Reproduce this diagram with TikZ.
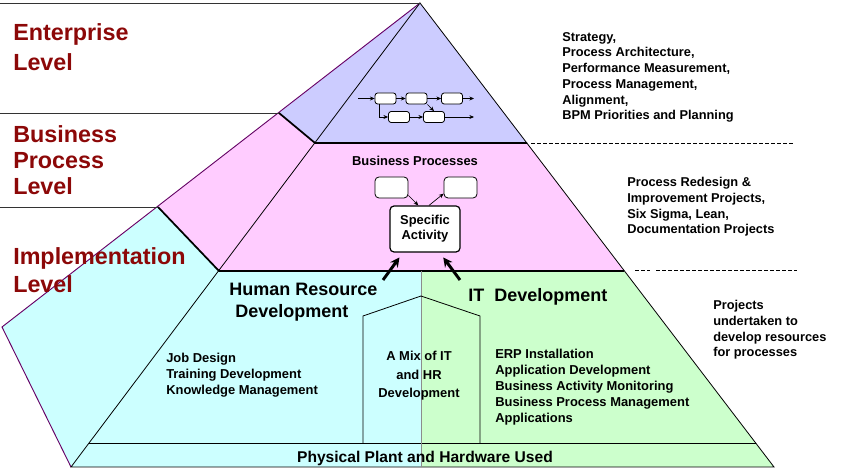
\documentclass[tikz,border=0pt]{standalone}
\usepackage{fontspec}
\setmainfont{Liberation Sans}
\usetikzlibrary{calc,arrows.meta,positioning}
\definecolor{entfill}{RGB}{204,204,255}
\definecolor{bpfill}{RGB}{255,204,255}
\definecolor{hrfill}{RGB}{204,255,255}
\definecolor{itfill}{RGB}{204,255,204}
\definecolor{lvlred}{RGB}{140,8,8}
\definecolor{rim}{RGB}{102,0,102}

\begin{document}
\begin{tikzpicture}[x=0.75pt,y=-0.75pt,>={Stealth[length=3.5pt,width=3pt]},
  lvl/.style={anchor=north west,inner sep=0pt,align=left,text=lvlred,
    font=\fontsize{17.5}{21.5}\selectfont\bfseries},
  note/.style={anchor=north west,inner sep=0pt,align=left,
    font=\fontsize{9.6}{11.8}\selectfont\bfseries},
  inner/.style={inner sep=0pt,font=\fontsize{9.7}{12}\selectfont\bfseries},
  head/.style={inner sep=0pt,font=\fontsize{13.5}{16.5}\selectfont\bfseries},
  fbox/.style={draw,fill=white,rounded corners=2pt,line width=0.6pt,
    minimum width=15.75pt,minimum height=8.25pt,inner sep=0pt},
  pbox/.style={draw,fill=white,rounded corners=3pt,line width=0.6pt,
    minimum width=24.75pt,minimum height=15.75pt,inner sep=0pt},
  push/.style={line width=2.2pt,-{Stealth[length=7pt,width=7pt]},shorten >=4.5pt},
  rule/.style={line width=0.6pt,black!80},
  dashrule/.style={line width=0.7pt,dash pattern=on 3pt off 1.5pt}]
\useasboundingbox (0,0) rectangle (850,473);
% ---- corner points of the pyramid ----
\coordinate (apex) at (420,3);
\coordinate (eL) at (279,113);   \coordinate (eF) at (315,143);  \coordinate (eR) at (527,143);
\coordinate (bL) at (158,207);   \coordinate (bF) at (219,271);  \coordinate (bR) at (624,271);
\coordinate (sideL) at (2,327);  \coordinate (botL) at (71,467); \coordinate (botR) at (774,467);
\coordinate (midT) at (421,271); \coordinate (midB) at (421,467);
\coordinate (pL) at (89,443);    \coordinate (pR) at (756,443);
% ---- faces ----
\fill[entfill] (apex) -- (eL) -- (eF) -- (eR) -- cycle;
\fill[bpfill] (eL) -- (bL) -- (bF) -- (bR) -- (eR) -- (eF) -- cycle;
\fill[hrfill] (bL) -- (sideL) -- (botL) -- (midB) -- (midT) -- (bF) -- cycle;
\fill[itfill] (midT) -- (bR) -- (botR) -- (midB) -- cycle;
% ---- edges ----
\draw[rim,line width=0.7pt] (apex) -- (sideL) -- (botL);
\draw[line width=0.6pt] (apex) -- (botL) -- (botR) -- cycle;
\draw[line width=1.3pt] (eL) -- (eF) -- (eR);
\draw[line width=1.3pt] (bL) -- (bF) -- (bR);
\draw[line width=0.6pt] (pL) -- (pR);
\draw[black!45,line width=0.5pt] (midT) -- (midB);
% mixed zone outline
\coordinate (mA) at (363,443); \coordinate (mB) at (363,316); \coordinate (mC) at (421,296);
\coordinate (mD) at (480,316); \coordinate (mE) at (480,443);
\draw[line width=0.6pt] (mA) -- (mB) -- (mC) -- (mD) -- (mE);
% ---- level rules on the left, dashed rules on the right ----
\coordinate (r1) at (0,3); \coordinate (r2) at (0,113); \coordinate (r3) at (0,207);
\draw[rule] (r1) -- (apex);
\draw[rule] (r2) -- (eL);
\draw[rule] (r3) -- (bL);
\coordinate (d1a) at (531,143); \coordinate (d1b) at (795,143);
\coordinate (d2a) at (635,270); \coordinate (d2b) at (650,270);
\coordinate (d3a) at (656,270); \coordinate (d3b) at (797,270);
\draw[dashrule] (d1a) -- (d1b);
\draw[dashrule] (d2a) -- (d2b);
\draw[dashrule] (d3a) -- (d3b);
% ---- level names ----
\node[lvl,font=\fontsize{17.5}{22.5}\selectfont\bfseries] (entlvl) at (13,23) {Enterprise\\Level};
\node[lvl,font=\fontsize{17.5}{19.8}\selectfont\bfseries] (bplvl) at (13,125) {Business\\Process\\Level};
\node[lvl] (implvl) at (13,247) {Implementation\\Level};
% ---- notes on the right ----
\node[note] (entnote) at (562,32) {Strategy,\\Process Architecture,\\Performance Measurement,\\Process Management,\\Alignment,\\BPM Priorities and Planning};
\node[note] (bpnote) at (627,177) {Process Redesign \&\\Improvement Projects,\\Six Sigma, Lean,\\Documentation Projects};
\node[note] (impnote) at (713,300) {Projects\\undertaken to\\develop resources\\for processes};
% ---- enterprise: small process map ----
\node[fbox] (f1) at (385.5,98.5) {};
\node[fbox] (f2) at (416.5,98.5) {};
\node[fbox] (f3) at (452,98.5) {};
\node[fbox] (f4) at (399,117) {};
\node[fbox] (f5) at (434,117) {};
\coordinate (fin) at (358,98.5);
\coordinate (fout1) at (474,98.5);
\coordinate (fout2) at (474,117);
\draw[->,line width=0.5pt] (fin) -- (f1);
\draw[->,line width=0.5pt] (f1) -- (f2);
\draw[->,line width=0.5pt] (f2) -- (f3);
\draw[->,line width=0.5pt] (f3) -- (fout1);
\draw[->,line width=0.5pt] ([xshift=-4.9pt]f1.south) |- (f4);
\draw[->,line width=0.5pt] (f4) -- (f5);
\draw[->,line width=0.5pt] (f2.south east) -- (f5.north);
\draw[->,line width=0.5pt] (f5) -- (fout2);
% ---- business processes ----
\node[inner,anchor=north] (bptitle) at (415,156) {Business Processes};
\node[pbox] (p1) at (391.5,187.5) {};
\node[pbox] (p2) at (460.5,187.5) {};
\node[draw,fill=white,rounded corners=3pt,line width=0.9pt,minimum width=52.5pt,minimum height=34.5pt,
  inner sep=0pt,align=center,font=\fontsize{9.7}{11.3}\selectfont\bfseries] (act) at (425,229) {Specific\\Activity};
\draw[->,line width=0.5pt] (p1.-25) -- ([xshift=-5pt]act.north);
\draw[->,line width=0.5pt] ([xshift=3pt]act.north) -- (p2.200);
% ---- implementation ----
\node[head,anchor=north west,align=left] (hrdev) at (229,283) {Human Resource\\\hspace*{4.5pt}Development};
\node[head,anchor=north west] (itdev) at (468,288) {IT~~Development};
\coordinate (hrtail) at (383,280);
\coordinate (ittail) at (460,280);
\draw[push] (hrtail) -- ([xshift=-16.5pt]act.south);
\draw[push] (ittail) -- ([xshift=11pt]act.south);
\node[inner,anchor=north west,align=left] (hrlist) at (166,353) {Job Design\\Training Development\\Knowledge Management};
\node[inner,anchor=north,align=center,font=\fontsize{9.7}{13.9}\selectfont\bfseries] (mix) at (419,351) {A Mix of IT\\and HR\\Development};
\node[inner,anchor=north west,align=left] (itlist) at (495,349) {ERP Installation\\Application Development\\Business Activity Monitoring\\Business Process Management\\Applications};
\node[inner,anchor=north,font=\fontsize{11.7}{14}\selectfont\bfseries] (plant) at (425,451) {Physical Plant and~Hardware Used};
\end{tikzpicture}
\end{document}
